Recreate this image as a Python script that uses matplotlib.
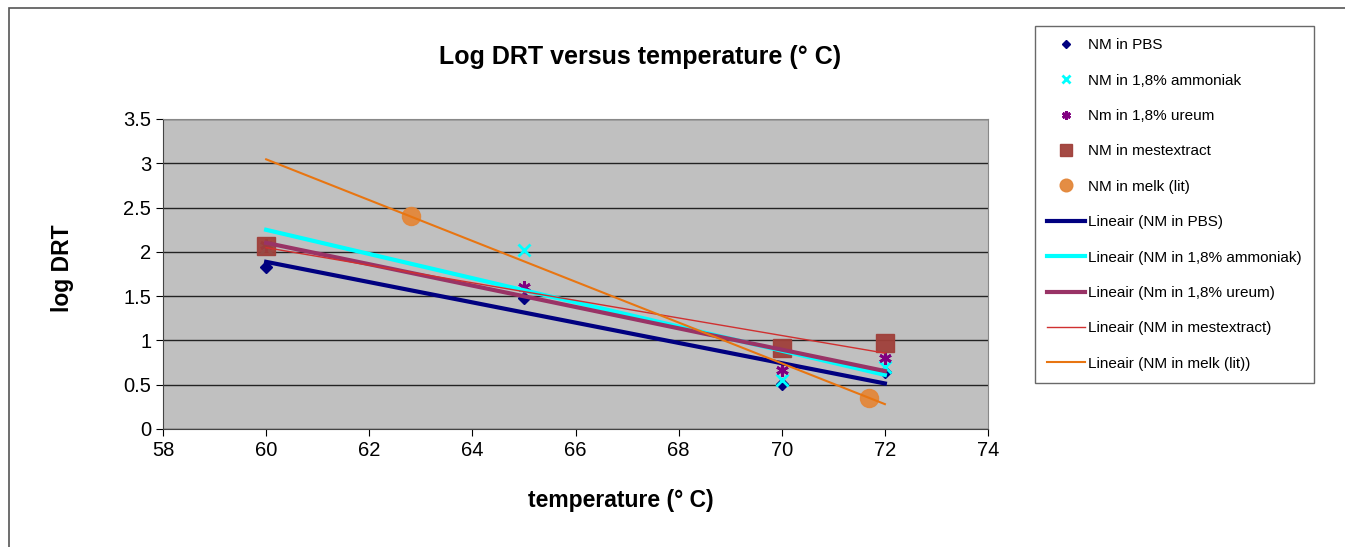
import numpy as np
import matplotlib.pyplot as plt
from matplotlib.patches import Rectangle

plt.rcParams['font.family'] = ['Liberation Sans', 'DejaVu Sans']

# data
temp = [60, 65, 70, 72]
pbs = [1.83, 1.48, 0.51, 0.64]
ammoniak = [2.04, 2.02, 0.55, 0.70]
ureum = [2.08, 1.60, 0.67, 0.80]
temp_mest = [60, 70, 72]
mest = [2.07, 0.92, 0.97]
temp_melk = [62.8, 71.7]
melk = [2.40, 0.35]

fig = plt.figure(figsize=(13.45, 5.47), dpi=100)
# outer chart frame
fig.patches.append(Rectangle((9/1345, -0.05), 1.2, 1 - 8/547 + 0.05,
                             transform=fig.transFigure, fill=False,
                             edgecolor='#555555', lw=1.2))

ax = fig.add_axes([163/1345, 1 - 429/547, 825/1345, 310/547])
ax.set_facecolor('#C0C0C0')
ax.set_xlim(58, 74)
ax.set_ylim(0, 3.5)
ax.set_xticks(np.arange(58, 75, 2))
ax.set_yticks(np.arange(0, 3.51, 0.5))
ax.set_yticklabels(['0', '0.5', '1', '1.5', '2', '2.5', '3', '3.5'])
ax.yaxis.grid(True, color='#222222', lw=1)
ax.set_axisbelow(True)
for s in ['top', 'right']:
    ax.spines[s].set_color('#888888')
for s in ['left', 'bottom']:
    ax.spines[s].set_color('#444444')
ax.tick_params(labelsize=14.5, length=5, direction='out')

h = []
h += ax.plot(temp, pbs, 'D', color='#000080', ms=6, ls='none', label='NM in PBS', zorder=5)
h += ax.plot(temp, ammoniak, 'x', color='#00FFFF', ms=9, mew=2, ls='none', label='NM in 1,8% ammoniak', zorder=5)
h += ax.plot(temp, ureum, marker=(6, 2, 0), color='#800080', ms=9, mew=2, ls='none', label='Nm in 1,8% ureum', zorder=5)
h += ax.plot(temp_mest, mest, 's', color='#A0403A', ms=13, ls='none', alpha=0.95, label='NM in mestextract', zorder=5)
h += ax.plot(temp_melk, melk, 'o', color='#E3873A', ms=13, ls='none', alpha=0.95, label='NM in melk (lit)', zorder=5)

def trend(x, y, xr):
    k, b = np.polyfit(x, y, 1)
    xs = np.array(xr)
    return xs, k * xs + b

xs, ys = trend(temp, pbs, [60, 72])
h += ax.plot(xs, ys, color='#000080', lw=3, label='Lineair (NM in PBS)', zorder=6)
xs, ys = trend(temp, ammoniak, [60, 72])
h += ax.plot(xs, ys, color='#00FFFF', lw=3, label='Lineair (NM in 1,8% ammoniak)', zorder=6)
xs, ys = trend(temp, ureum, [60, 72])
h += ax.plot(xs, ys, color='#993366', lw=3, label='Lineair (Nm in 1,8% ureum)', zorder=6)
xs, ys = trend(temp_mest, mest, [60, 72])
h += ax.plot(xs, ys, color='#D03030', lw=1, label='Lineair (NM in mestextract)', zorder=6)
xs, ys = trend(temp_melk, melk, [60, 72])
h += ax.plot(xs, ys, color='#E87511', lw=1.5, label='Lineair (NM in melk (lit))', zorder=6)

fig.text(640/1345, 1 - 57/547, 'Log DRT versus temperature (° C)', ha='center', va='center',
         fontsize=18, fontweight='bold')
fig.text(621/1345, 1 - 500/547, 'temperature (° C)', ha='center', va='center',
         fontsize=16.5, fontweight='bold')
fig.text(62/1345, 1 - 268/547, 'log DRT', ha='center', va='center', rotation=90,
         fontsize=16.5, fontweight='bold')

leg = fig.legend(handles=h, loc='upper left', bbox_to_anchor=(1035/1345, 1 - 26/547),
                 fontsize=11, frameon=True, fancybox=False, labelspacing=1.4,
                 handlelength=2.5, handletextpad=0.15, borderpad=0.8, borderaxespad=0,
                 markerscale=0.7)
leg.get_frame().set_edgecolor('#444444')
leg.get_frame().set_linewidth(1)

fig.savefig('out.png', dpi=100)
